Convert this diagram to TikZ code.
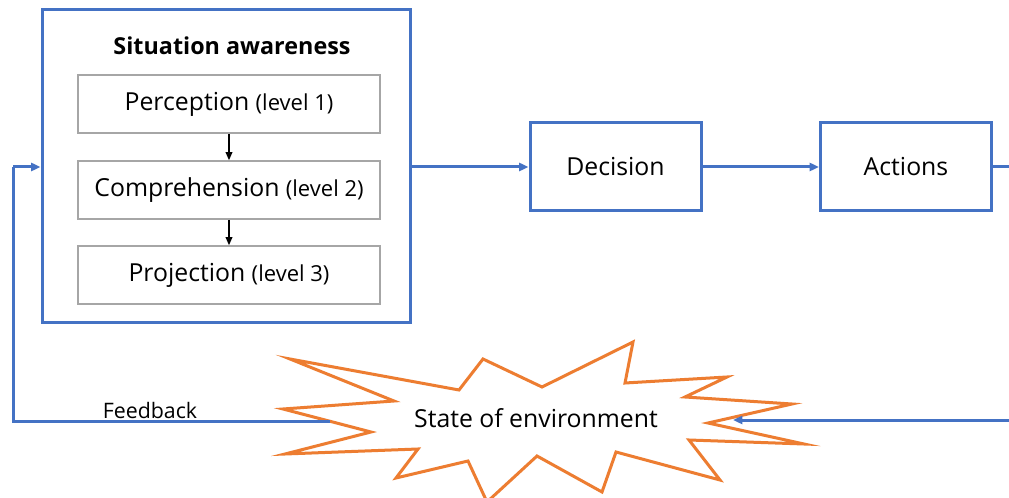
\documentclass[tikz,border=0pt]{standalone}
\usepackage{fontspec}
\setmainfont{Open Sans}
\usetikzlibrary{arrows.meta}
\definecolor{oblue}{HTML}{4472C4}
\definecolor{oorange}{HTML}{ED7D31}
\definecolor{boxgray}{HTML}{A6A6A6}
\newcommand{\bigtxt}{\fontsize{18.6}{22}\selectfont}
\newcommand{\lvltxt}{\fontsize{16.5}{20}\selectfont}
\begin{document}
\begin{tikzpicture}[x=0.75pt,y=-0.75pt,
  bluebox/.style={draw=oblue, line width=2.25pt, fill=white},
  graybox/.style={draw=boxgray, line width=1.2pt, fill=white, minimum width=226.5pt, minimum height=43.5pt, inner sep=0pt, font=\bigtxt},
  bluearrow/.style={draw=oblue, line width=2.25pt, -{Triangle[length=7pt,width=6pt]}},
  blueline/.style={draw=oblue, line width=2.25pt},
  blackarrow/.style={draw=black, line width=0.9pt, -{Triangle[length=6pt,width=5pt]}},
  burst/.style={draw=oorange, line width=2.25pt, fill=white, line join=miter, miter limit=20},
  lbl/.style={inner sep=0pt, font=\bigtxt}]
\clip (0,0) rectangle (1009,498);
\fill[white] (0,0) rectangle (1009,498);
% Situation awareness box
\node[bluebox, minimum width=276pt, minimum height=234.75pt, inner sep=0pt] (sa) at (226,166.5) {};
\node[lbl, font=\fontsize{17.5}{21}\selectfont\bfseries] (satitle) at (232,46) {Situation awareness};
\node[graybox] (perc) at (229,104) {Perception {\lvltxt(level 1)}};
\node[graybox] (comp) at (229,190) {Comprehension {\lvltxt(level 2)}};
\node[graybox] (proj) at (229,275) {Projection {\lvltxt(level 3)}};
\draw[blackarrow] (perc) -- (comp);
\draw[blackarrow] (comp) -- (proj);
% Decision and Actions
\node[bluebox, minimum width=128.25pt, minimum height=66pt, inner sep=0pt, font=\bigtxt] (dec) at (615.5,167) {Decision};
\node[bluebox, minimum width=128.25pt, minimum height=66pt, inner sep=0pt, font=\bigtxt] (act) at (906,167) {Actions};
\draw[bluearrow] (sa.east |- dec.west) -- (dec.west);
\draw[bluearrow] (dec) -- (act);
% Starburst
\draw[burst] (290,359) -- (394,401) -- (283,409) -- (371,432) -- (285,454) -- (418,449)
  -- (396,478) -- (468,461) -- (487,502) -- (537,456) -- (602,492) -- (616,452)
  -- (720,480) -- (689,440) -- (804,444) -- (708,423) -- (792,404) -- (685,397)
  -- (727,377) -- (625,383) -- (633,342) -- (542,387) -- (483,359) -- (459,390) -- cycle;
\node[lbl] (env) at (536,418) {State of environment};
\coordinate (envL) at (330,421);
\coordinate (envR) at (733,420);
% Feedback loop
\coordinate (fbBL) at (13,421);
\coordinate (fbTL) at (13,167);
\draw[blueline] (envL) -- (fbBL) -- (fbTL);
\draw[bluearrow] (fbTL) -- (sa.west |- fbTL);
\node[lbl, font=\fontsize{16}{19}\selectfont] (fb) at (150,410) {Feedback};
% Actions to environment (runs off the right edge)
\coordinate (rTop) at (1014,167);
\coordinate (rBot) at (1014,420);
\draw[blueline] (act.east) -- (rTop) -- (rBot);
\draw[bluearrow] (rBot) -- (envR);
\end{tikzpicture}
\end{document}
